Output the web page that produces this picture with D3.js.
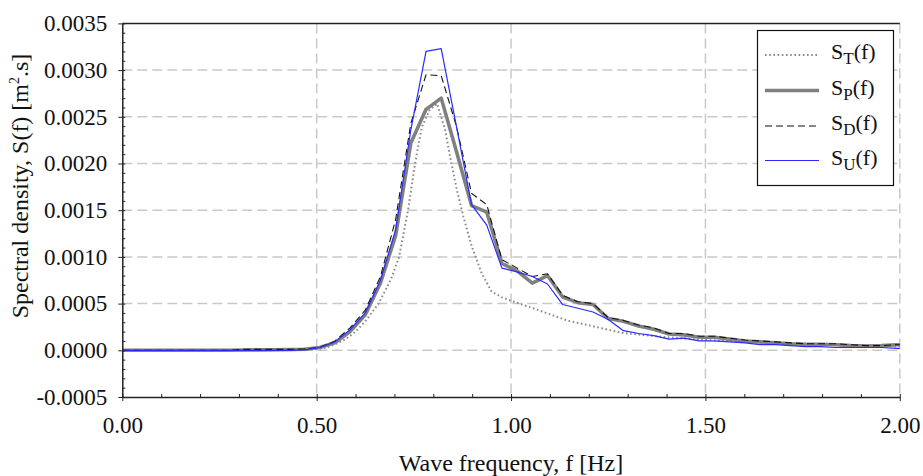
<!DOCTYPE html>
<html>
<head>
<meta charset="utf-8">
<script src="https://cdn.jsdelivr.net/npm/d3@7"></script>
<style>
  html, body { margin: 0; padding: 0; background: #fff; }
  svg { display: block; font-family: "Liberation Serif", "Times New Roman", serif; }
</style>
</head>
<body>
<svg id="chart" width="923" height="476"></svg>
<script>
// ---------------- data ----------------
const freq = [0.0000, 0.0391, 0.0781, 0.1172, 0.1563, 0.1953, 0.2344, 0.2734, 0.3125, 0.3516,
  0.3906, 0.4297, 0.4688, 0.5078, 0.5469, 0.5859, 0.6250, 0.6641, 0.7031, 0.7422,
  0.7813, 0.8203, 0.8594, 0.8984, 0.9375, 0.9766, 1.0156, 1.0547, 1.0938, 1.1328,
  1.1719, 1.2109, 1.2500, 1.2891, 1.3281, 1.3672, 1.4063, 1.4453, 1.4844, 1.5234,
  1.5625, 1.6016, 1.6406, 1.6797, 1.7188, 1.7578, 1.7969, 1.8359, 1.8750, 1.9141,
  1.9531, 1.9922, 2.0313];

const sP = [0, 0, 0, 0, 0, 0, 0, 0, 0.000003, 0.000005,
  0.000006, 0.000008, 0.000012, 0.00003, 0.00008, 0.00020, 0.00038, 0.00072, 0.00123, 0.00222,
  0.00258, 0.00270, 0.00213, 0.00155, 0.00148, 0.00093, 0.00085, 0.00072, 0.00080, 0.00057,
  0.00051, 0.00049, 0.00034, 0.00031, 0.00026, 0.000225, 0.000175, 0.000165, 0.00014, 0.00014,
  0.00012, 0.00010, 0.00009, 0.00008, 0.00007, 0.000065, 0.000065, 0.00006, 0.00005, 0.000045,
  0.00005, 0.00006, 0.00006];

const sD = [0, 0, 0, 0, 0, 0, 0, 0, 0.00001, 0.00001,
  0.00001, 0.00001, 0.000015, 0.00003, 0.00010, 0.00024, 0.00043, 0.00079, 0.00140, 0.00243,
  0.00295, 0.00294, 0.00240, 0.00168, 0.00156, 0.00097, 0.00088, 0.00079, 0.00082, 0.00059,
  0.00052, 0.00050, 0.00035, 0.00032, 0.00027, 0.00024, 0.00018, 0.00018, 0.00015, 0.00015,
  0.00013, 0.00011, 0.00010, 0.00009, 0.00008, 0.00007, 0.00007, 0.00007, 0.00006, 0.00005,
  0.00005, 0.00006, 0.00006];

const sU = [0, 0, 0, 0, 0, 0, 0, 0, 0, 0,
  0, 0, 0.000005, 0.00003, 0.00009, 0.00022, 0.00040, 0.00075, 0.00129, 0.00236,
  0.00320, 0.00323, 0.00240, 0.00156, 0.00134, 0.00088, 0.00084, 0.00079, 0.00071, 0.00049,
  0.00045, 0.00041, 0.00033, 0.00021, 0.00018, 0.000157, 0.00012, 0.00013, 0.00010, 0.00010,
  0.00009, 0.00008, 0.00006, 0.00006, 0.00005, 0.00004, 0.00004, 0.00003, 0.00003, 0.00003,
  0.00003, 0.00002, 0.00001];

const targetFreq = [0, 0.40, 0.45, 0.50, 0.525, 0.55, 0.575, 0.60, 0.625, 0.659,
  0.69, 0.712, 0.735, 0.753, 0.7705, 0.79, 0.81, 0.8304, 0.8433, 0.8605,
  0.8775, 0.8991, 0.9249, 0.95, 0.975, 1.0, 1.057, 1.144, 1.229, 1.288,
  1.35, 1.40, 1.50, 1.60, 1.70, 1.80, 1.90, 2.00];
const sT = [0, 0, 0.000002, 0.00001, 0.00003, 0.00007, 0.00012, 0.00020, 0.00031, 0.00050,
  0.00075, 0.00100, 0.00150, 0.00200, 0.00239, 0.00257, 0.00264, 0.00236, 0.00207, 0.00172,
  0.00143, 0.00111, 0.00082, 0.00063, 0.00057, 0.00053, 0.00045, 0.00032, 0.00024, 0.000185,
  0.00016, 0.00014, 0.00011, 0.00009, 0.00007, 0.00006, 0.00005, 0.00004];

const xTicks = [0, 0.5, 1.0, 1.5, 2.0];
const xTickLabels = ["0.00", "0.50", "1.00", "1.50", "2.00"];
const yTicks = [-0.0005, 0, 0.0005, 0.0010, 0.0015, 0.0020, 0.0025, 0.0030, 0.0035];
const yTickLabels = ["-0.0005", "0.0000", "0.0005", "0.0010", "0.0015", "0.0020", "0.0025", "0.0030", "0.0035"];

const seriesNames = ["T", "P", "D", "U"];

// ---------------- layout ----------------
const svg = d3.select("#chart");
const L = 122.3, R = 899.8, T = 23.4, B = 397;
const x = d3.scaleLinear().domain([0, 2]).range([L, R]);
const y = d3.scaleLinear().domain([-0.0005, 0.0035]).range([B, T]);

const gridColor = "#c9c9c9";
svg.append("g").selectAll("line")
  .data(yTicks.filter(v => v > -0.0005 && v < 0.0035))
  .join("line")
  .attr("x1", L).attr("x2", R)
  .attr("y1", d => y(d)).attr("y2", d => y(d))
  .attr("stroke", gridColor).attr("stroke-width", 1.5)
  .attr("stroke-dasharray", "10,5");
svg.append("g").selectAll("line")
  .data(xTicks.filter(v => v > 0))
  .join("line")
  .attr("x1", d => x(d)).attr("x2", d => x(d))
  .attr("y1", T).attr("y2", B)
  .attr("stroke", gridColor).attr("stroke-width", 1.5)
  .attr("stroke-dasharray", "10,5");

svg.append("line").attr("x1", L).attr("x2", R).attr("y1", T).attr("y2", T)
  .attr("stroke", "#222").attr("stroke-width", 1.5);

svg.append("clipPath").attr("id", "clip").append("rect")
  .attr("x", L).attr("y", T).attr("width", R - L).attr("height", B - T);

const line = d3.line().x(d => x(d[0])).y(d => y(d[1]));
const plot = svg.append("g").attr("clip-path", "url(#clip)");

const styles = {
  T: { stroke: "#8a8a8a", width: 2, dash: "1.6,2.6" },
  P: { stroke: "#808080", width: 3.6, dash: null },
  D: { stroke: "#111111", width: 1.1, dash: "7,4" },
  U: { stroke: "#2a2aff", width: 1.2, dash: null }
};

const seriesData = {
  T: targetFreq.map((f, i) => [f, sT[i]]),
  P: freq.map((f, i) => [f, sP[i]]),
  D: freq.map((f, i) => [f, sD[i]]),
  U: freq.map((f, i) => [f, sU[i]])
};

seriesNames.forEach(k => {
  const s = styles[k];
  plot.append("path")
    .datum(seriesData[k])
    .attr("d", line)
    .attr("fill", "none")
    .attr("stroke", s.stroke)
    .attr("stroke-width", s.width)
    .attr("stroke-linejoin", "round")
    .attr("stroke-dasharray", s.dash);
});

// ---------------- axes ----------------
const tickFont = 23;
const titleFont = 24;
const yAxis = svg.append("g").attr("transform", `translate(${L},0)`)
  .call(d3.axisLeft(y).tickValues(yTicks).tickFormat((d, i) => yTickLabels[i]).tickSize(4).tickSizeOuter(0).tickPadding(11));
yAxis.select(".domain").attr("stroke", "#222").attr("stroke-width", 1.5);
yAxis.selectAll(".tick line").attr("stroke", "#222");
yAxis.selectAll("text").attr("font-size", tickFont).attr("fill", "#111")
  .attr("font-family", "Liberation Serif, serif");

const yMinor = svg.append("g").attr("transform", `translate(${L},0)`)
  .call(d3.axisLeft(y).tickValues(d3.range(-5, 36).map(v => v * 0.0001)).tickSize(-3).tickFormat(""));
yMinor.select(".domain").remove();
yMinor.selectAll(".tick line").attr("stroke", "#222");

const xAxis = svg.append("g").attr("transform", `translate(0,${B})`)
  .call(d3.axisBottom(x).tickValues(xTicks).tickFormat((d, i) => xTickLabels[i]).tickSize(4).tickSizeOuter(0).tickPadding(16));
xAxis.select(".domain").attr("stroke", "#222").attr("stroke-width", 1.5);
xAxis.selectAll(".tick line").attr("stroke", "#222");
xAxis.selectAll("text").attr("font-size", tickFont).attr("fill", "#111")
  .attr("font-family", "Liberation Serif, serif");

const xMinor = svg.append("g").attr("transform", `translate(0,${B})`)
  .call(d3.axisBottom(x).tickValues(d3.range(0, 21).map(v => v * 0.1)).tickSize(-3).tickFormat(""));
xMinor.select(".domain").remove();
xMinor.selectAll(".tick line").attr("stroke", "#222");

svg.append("text")
  .attr("x", 511).attr("y", 471)
  .attr("text-anchor", "middle")
  .attr("font-size", titleFont).attr("fill", "#111")
  .text("Wave frequency, f [Hz]");

const yt = svg.append("text")
  .attr("transform", `translate(28,186) rotate(-90)`)
  .attr("text-anchor", "middle")
  .attr("font-size", titleFont).attr("fill", "#111");
yt.append("tspan").text("Spectral density, S(f) [m");
yt.append("tspan").attr("font-size", 14).attr("dy", -9).text("2");
yt.append("tspan").attr("dy", 9).text(".s]");

// ---------------- legend ----------------
const lg = svg.append("g");
lg.append("rect").attr("x", 757.5).attr("y", 30.5).attr("width", 136).attr("height", 155)
  .attr("fill", "#fff").attr("stroke", "#111").attr("stroke-width", 1.2);
const rowY = [55, 90.5, 126, 160.5];
seriesNames.forEach((k, i) => {
  const s = styles[k];
  lg.append("line")
    .attr("x1", 765).attr("x2", 819)
    .attr("y1", rowY[i]).attr("y2", rowY[i])
    .attr("stroke", s.stroke).attr("stroke-width", s.width)
    .attr("stroke-dasharray", s.dash);
  const t = lg.append("text").attr("x", 831).attr("y", rowY[i] + 4)
    .attr("font-size", 22).attr("fill", "#111");
  t.append("tspan").text("S");
  t.append("tspan").attr("font-size", 17).attr("dy", 5).text(k);
  t.append("tspan").attr("dy", -5).text("(f)");
});
</script>
</body>
</html>
